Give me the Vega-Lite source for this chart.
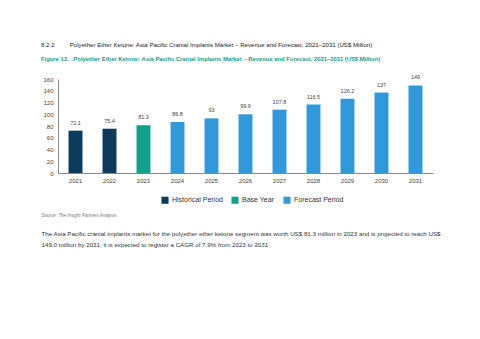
{
  "$schema": "https://vega.github.io/schema/vega-lite/v6.json",
  "autosize": {"type": "none"},
  "width": 375,
  "height": 94,
  "padding": {"left": 58, "top": 79, "right": 47, "bottom": 166},
  "background": "white",
  "config": {"view": {"stroke": null}, "font": "Liberation Sans"},
  "title": {
    "text": "8.2.2\u00a0\u00a0\u00a0\u00a0\u00a0\u00a0\u00a0\u00a0\u00a0Polyether Ether Ketone: Asia Pacific Cranial Implants Market – Revenue and Forecast, 2021–2031 (US$ Million)",
    "subtitle": "Figure 13.\u00a0\u00a0\u00a0Polyether Ether Ketone: Asia Pacific Cranial Implants Market – Revenue and Forecast, 2021–2031 (US$ Million)",
    "anchor": "start",
    "dx": 0,
    "fontSize": 6.1,
    "fontWeight": "normal",
    "color": "#222222",
    "subtitleFontSize": 5.85,
    "subtitleColor": "#1a9a8c",
    "subtitleFontWeight": "bold",
    "subtitlePadding": 8,
    "offset": 14
  },
  "data": {
    "values": [
      {"year": "2021", "value": 72.1, "period": "Historical Period"},
      {"year": "2022", "value": 75.4, "period": "Historical Period"},
      {"year": "2023", "value": 81.3, "period": "Base Year"},
      {"year": "2024", "value": 86.8, "period": "Forecast Period"},
      {"year": "2025", "value": 93, "period": "Forecast Period"},
      {"year": "2026", "value": 99.9, "period": "Forecast Period"},
      {"year": "2027", "value": 107.8, "period": "Forecast Period"},
      {"year": "2028", "value": 116.5, "period": "Forecast Period"},
      {"year": "2029", "value": 126.2, "period": "Forecast Period"},
      {"year": "2030", "value": 137, "period": "Forecast Period"},
      {"year": "2031", "value": 149, "period": "Forecast Period"}
    ]
  },
  "encoding": {
    "x": {
      "field": "year",
      "type": "ordinal",
      "scale": {"paddingInner": 0.59, "paddingOuter": 0.31},
      "axis": {
        "labelAngle": 0,
        "labelFontSize": 6,
        "labelColor": "#444444",
        "labelPadding": 4,
        "ticks": false,
        "domainColor": "#888888",
        "domainWidth": 1,
        "title": ["The Asia Pacific cranial implants market for the polyether ether ketone segment was worth US$ 81.3 million in 2023 and is projected to reach US$", "149.0 million by 2031; it is expected to register a CAGR of 7.9% from 2023 to 2031."],
        "titleFontSize": 6.2,
        "titleFontWeight": "normal",
        "titleColor": "#333333",
        "titleAnchor": "start",
        "titleAlign": "left",
        "titleBaseline": "middle",
        "titleX": -17,
        "titleY": 60,
        "titleLineHeight": 11
      }
    },
    "y": {
      "field": "value",
      "type": "quantitative",
      "scale": {"domain": [0, 160], "nice": false},
      "axis": {
        "values": [0, 20, 40, 60, 80, 100, 120, 140, 160],
        "grid": false,
        "ticks": false,
        "labelFontSize": 6,
        "labelColor": "#444444",
        "labelPadding": 5,
        "domainColor": "#888888",
        "title": "Source: The Insight Partners Analysis",
        "titleFontSize": 4.5,
        "titleFontStyle": "italic",
        "titleFontWeight": "normal",
        "titleColor": "#777777",
        "titleAngle": 0,
        "titleAlign": "left",
        "titleBaseline": "middle",
        "titleX": -17,
        "titleY": 136
      }
    }
  },
  "layer": [
    {
      "mark": {"type": "bar"},
      "encoding": {
        "color": {
          "field": "period",
          "type": "nominal",
          "scale": {
            "domain": ["Historical Period", "Base Year", "Forecast Period"],
            "range": ["#0e3b5c", "#13a088", "#3199da"]
          },
          "legend": {
            "title": null,
            "orient": "none",
            "direction": "horizontal",
            "legendX": 103,
            "legendY": 117,
            "symbolType": "square",
            "symbolSize": 50,
            "symbolStrokeWidth": 0,
            "labelFontSize": 7,
            "labelColor": "#333333",
            "columnPadding": 8,
            "labelOffset": 3
          }
        }
      }
    },
    {
      "mark": {"type": "text", "dy": -5, "fontSize": 5.5, "color": "#444444", "baseline": "bottom"},
      "encoding": {"text": {"field": "value", "type": "quantitative"}}
    }
  ]
}
